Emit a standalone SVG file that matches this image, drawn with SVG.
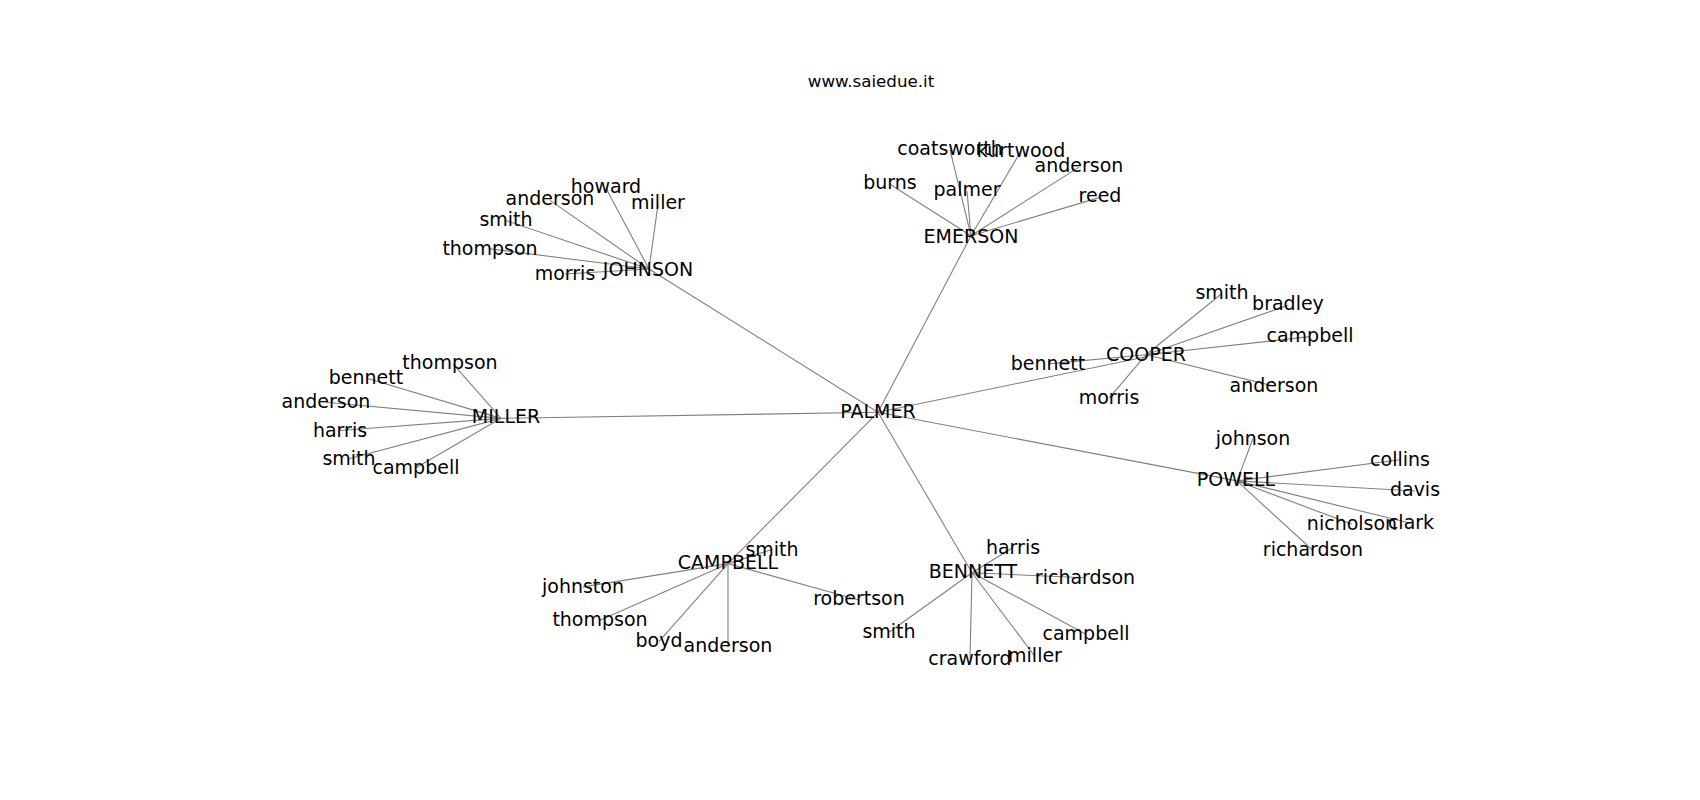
<svg xmlns="http://www.w3.org/2000/svg" width="1700" height="800" viewBox="0 0 1700 800">
<style>
.e{stroke:#808080;stroke-width:1.1;fill:none}
text{font-family:"DejaVu Sans","Liberation Sans",sans-serif;font-size:19px;fill:#000;text-anchor:middle}
.t{font-size:16.7px}
</style>
<rect width="1700" height="800" fill="#fff"/>
<text class="t" x="871" y="87">www.saiedue.it</text>
<g transform="matrix(1 0 0 1.009 0 -1.4)">
<g id="edges">
<line class="e" x1="878" y1="410" x2="501" y2="416"/>
<line class="e" x1="878" y1="410" x2="649" y2="268"/>
<line class="e" x1="878" y1="410" x2="971" y2="235"/>
<line class="e" x1="878" y1="410" x2="1146" y2="355"/>
<line class="e" x1="878" y1="410" x2="1237" y2="478"/>
<line class="e" x1="878" y1="410" x2="972" y2="569"/>
<line class="e" x1="878" y1="410" x2="728" y2="560"/>
<line class="e" x1="501" y1="416" x2="453" y2="362"/>
<line class="e" x1="501" y1="416" x2="366" y2="376"/>
<line class="e" x1="501" y1="416" x2="326" y2="400"/>
<line class="e" x1="501" y1="416" x2="340" y2="428"/>
<line class="e" x1="501" y1="416" x2="349" y2="456"/>
<line class="e" x1="501" y1="416" x2="416" y2="465"/>
<line class="e" x1="649" y1="268" x2="606" y2="188"/>
<line class="e" x1="649" y1="268" x2="550" y2="200"/>
<line class="e" x1="649" y1="268" x2="658" y2="204"/>
<line class="e" x1="649" y1="268" x2="506" y2="220"/>
<line class="e" x1="649" y1="268" x2="490" y2="248"/>
<line class="e" x1="649" y1="268" x2="565" y2="273"/>
<line class="e" x1="971" y1="235" x2="950" y2="150"/>
<line class="e" x1="971" y1="235" x2="1021" y2="151"/>
<line class="e" x1="971" y1="235" x2="1079" y2="167"/>
<line class="e" x1="971" y1="235" x2="1100" y2="197"/>
<line class="e" x1="971" y1="235" x2="967" y2="191"/>
<line class="e" x1="971" y1="235" x2="890" y2="184"/>
<line class="e" x1="1146" y1="353" x2="1221" y2="293"/>
<line class="e" x1="1146" y1="353" x2="1288" y2="304"/>
<line class="e" x1="1146" y1="353" x2="1310" y2="335"/>
<line class="e" x1="1146" y1="353" x2="1274" y2="384"/>
<line class="e" x1="1146" y1="353" x2="1109" y2="396"/>
<line class="e" x1="1146" y1="353" x2="1048" y2="362"/>
<line class="e" x1="1237" y1="478" x2="1253" y2="436"/>
<line class="e" x1="1237" y1="478" x2="1400" y2="457"/>
<line class="e" x1="1237" y1="478" x2="1415" y2="488"/>
<line class="e" x1="1237" y1="478" x2="1411" y2="520"/>
<line class="e" x1="1237" y1="478" x2="1352" y2="521"/>
<line class="e" x1="1237" y1="478" x2="1313" y2="547"/>
<line class="e" x1="728" y1="560" x2="772" y2="546"/>
<line class="e" x1="728" y1="560" x2="583" y2="583"/>
<line class="e" x1="728" y1="560" x2="600" y2="616"/>
<line class="e" x1="728" y1="560" x2="659" y2="637"/>
<line class="e" x1="728" y1="560" x2="728" y2="643"/>
<line class="e" x1="728" y1="560" x2="859" y2="596"/>
<line class="e" x1="972" y1="569" x2="1013" y2="544"/>
<line class="e" x1="972" y1="569" x2="1085" y2="574"/>
<line class="e" x1="972" y1="569" x2="889" y2="628"/>
<line class="e" x1="972" y1="569" x2="970" y2="654"/>
<line class="e" x1="972" y1="569" x2="1035" y2="652"/>
<line class="e" x1="972" y1="569" x2="1086" y2="630"/>
</g>
<g id="PALMER"><text x="878" y="416">PALMER</text></g>
<g id="MILLER"><text x="506" y="421">MILLER</text></g>
<g id="miller-thompson"><text x="450" y="367">thompson</text></g>
<g id="miller-bennett"><text x="366" y="382">bennett</text></g>
<g id="miller-anderson"><text x="326" y="406">anderson</text></g>
<g id="miller-harris"><text x="340" y="434">harris</text></g>
<g id="miller-smith"><text x="349" y="462">smith</text></g>
<g id="miller-campbell"><text x="416" y="471">campbell</text></g>
<g id="JOHNSON"><text x="648" y="275">JOHNSON</text></g>
<g id="johnson-howard"><text x="606" y="193">howard</text></g>
<g id="johnson-anderson"><text x="550" y="205">anderson</text></g>
<g id="johnson-miller"><text x="658" y="209">miller</text></g>
<g id="johnson-smith"><text x="506" y="225">smith</text></g>
<g id="johnson-thompson"><text x="490" y="254">thompson</text></g>
<g id="johnson-morris"><text x="565" y="279">morris</text></g>
<g id="EMERSON"><text x="971" y="242">EMERSON</text></g>
<g id="emerson-coatsworth"><text x="950" y="155">coatsworth</text></g>
<g id="emerson-kurtwood"><text x="1021" y="157">kurtwood</text></g>
<g id="emerson-anderson"><text x="1079" y="172">anderson</text></g>
<g id="emerson-reed"><text x="1100" y="202">reed</text></g>
<g id="emerson-palmer"><text x="967" y="196">palmer</text></g>
<g id="emerson-burns"><text x="890" y="189">burns</text></g>
<g id="COOPER"><text x="1146" y="359">COOPER</text></g>
<g id="cooper-smith"><text x="1222" y="298">smith</text></g>
<g id="cooper-bradley"><text x="1288" y="309">bradley</text></g>
<g id="cooper-campbell"><text x="1310" y="340">campbell</text></g>
<g id="cooper-anderson"><text x="1274" y="390">anderson</text></g>
<g id="cooper-morris"><text x="1109" y="402">morris</text></g>
<g id="cooper-bennett"><text x="1048" y="368">bennett</text></g>
<g id="POWELL"><text x="1236" y="483">POWELL</text></g>
<g id="powell-johnson"><text x="1253" y="442">johnson</text></g>
<g id="powell-collins"><text x="1400" y="463">collins</text></g>
<g id="powell-davis"><text x="1415" y="493">davis</text></g>
<g id="powell-clark"><text x="1411" y="526">clark</text></g>
<g id="powell-nicholson"><text x="1352" y="527">nicholson</text></g>
<g id="powell-richardson"><text x="1313" y="552">richardson</text></g>
<g id="CAMPBELL"><text x="728" y="565">CAMPBELL</text></g>
<g id="campbell-smith"><text x="772" y="552">smith</text></g>
<g id="campbell-johnston"><text x="583" y="589">johnston</text></g>
<g id="campbell-thompson"><text x="600" y="622">thompson</text></g>
<g id="campbell-boyd"><text x="659" y="643">boyd</text></g>
<g id="campbell-anderson"><text x="728" y="648">anderson</text></g>
<g id="campbell-robertson"><text x="859" y="601">robertson</text></g>
<g id="BENNETT"><text x="973" y="574">BENNETT</text></g>
<g id="bennett-harris"><text x="1013" y="550">harris</text></g>
<g id="bennett-richardson"><text x="1085" y="580">richardson</text></g>
<g id="bennett-smith"><text x="889" y="634">smith</text></g>
<g id="bennett-crawford"><text x="970" y="660">crawford</text></g>
<g id="bennett-miller"><text x="1035" y="657">miller</text></g>
<g id="bennett-campbell"><text x="1086" y="636">campbell</text></g>
</g>
</svg>
